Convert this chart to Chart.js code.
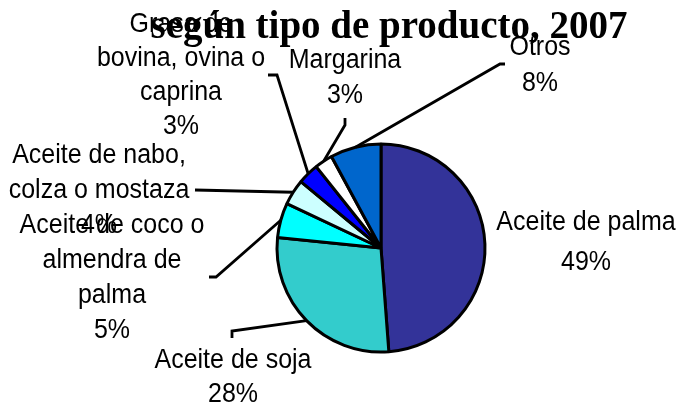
<!DOCTYPE html>
<html>
<head>
<meta charset="utf-8">
<script src="https://cdn.jsdelivr.net/npm/chart.js@4/dist/chart.umd.min.js"></script>
<style>
html, body { margin: 0; padding: 0; background: #fff; }
#wrap { width: 681px; height: 404px; position: relative; }
</style>
</head>
<body>
<div id="wrap"><canvas id="pieChart"></canvas></div>
<script>
// Chart data
const titleText = 'según tipo de producto, 2007';
const categories = [
    ['Aceite de palma'],
    ['Aceite de soja'],
    ['Aceite de coco o', 'almendra de', 'palma'],
    ['Aceite de nabo,', 'colza o mostaza'],
    ['Grasa de', 'bovina, ovina o', 'caprina'],
    ['Margarina'],
    ['Otros']
];
const shares = [48.8, 27.8, 5.4, 4.0, 3.3, 2.8, 7.9];
const sliceColors = ['#333399', '#33CCCC', '#00FFFF', '#CCFFFF', '#0000FF', '#FFFFFF', '#0066CC'];

// Label placement: centre x, y of first line, gap between lines
const labelX = [586, 233, 112, 99, 181, 345, 540];
const labelY = [222, 360, 225, 155, 24, 60, 47];
const lineGap = [40, 34, 35, 35, 34, 35, 36];
// Leader lines run from the slice edge through these points
const leaderPoints = [
    [],
    [[232, 331], [232, 338]],
    [[216, 277], [209, 277]],
    [[195, 190]],
    [[277, 75], [268, 75]],
    [[345, 125], [345, 118]],
    [[500, 64], [505, 64]]
];

const pieLabels = {
    id: 'pieLabels',
    afterDraw(chart) {
        const ctx = chart.ctx;
        const arcs = chart.getDatasetMeta(0).data;
        const total = shares.reduce((a, b) => a + b, 0);
        ctx.save();

        // title
        ctx.fillStyle = '#000';
        ctx.font = 'bold 39px "Liberation Serif", "Times New Roman", serif';
        ctx.textAlign = 'center';
        ctx.textBaseline = 'alphabetic';
        ctx.fillText(titleText, 389, 38);

        arcs.forEach((arc, i) => {
            const p = arc.getProps(['x', 'y', 'startAngle', 'endAngle', 'outerRadius'], true);
            const mid = (p.startAngle + p.endAngle) / 2;
            const pts = leaderPoints[i];
            if (pts.length) {
                ctx.beginPath();
                ctx.moveTo(p.x + Math.cos(mid) * p.outerRadius, p.y + Math.sin(mid) * p.outerRadius);
                pts.forEach(pt => ctx.lineTo(pt[0], pt[1]));
                ctx.lineWidth = 2.8;
                ctx.strokeStyle = '#000';
                ctx.stroke();
            }
            const lines = categories[i].concat(Math.round(shares[i] / total * 100) + '%');
            ctx.font = '25px "Liberation Sans", Arial, sans-serif';
            ctx.textBaseline = 'middle';
            ctx.fillStyle = '#000';
            lines.forEach((t, k) => {
                // glyphs in the original are a little taller than wide
                ctx.save();
                ctx.translate(labelX[i], labelY[i] + k * lineGap[i]);
                ctx.scale(1, 1.1);
                ctx.fillText(t, 0, 0);
                ctx.restore();
            });
        });
        ctx.restore();
    }
};

const ctx = document.getElementById('pieChart').getContext('2d');
new Chart(ctx, {
    type: 'pie',
    data: {
        labels: categories,
        datasets: [{
            data: shares,
            backgroundColor: sliceColors,
            borderColor: '#000',
            borderWidth: 3
        }]
    },
    options: {
        responsive: true,
        maintainAspectRatio: false,
        animation: false,
        radius: 104,
        layout: {
            padding: { left: 277, right: 196, top: 144, bottom: 52 }
        },
        plugins: {
            legend: { display: false },
            tooltip: { enabled: false },
            title: { display: false }
        }
    },
    plugins: [pieLabels]
});
</script>
</body>
</html>
